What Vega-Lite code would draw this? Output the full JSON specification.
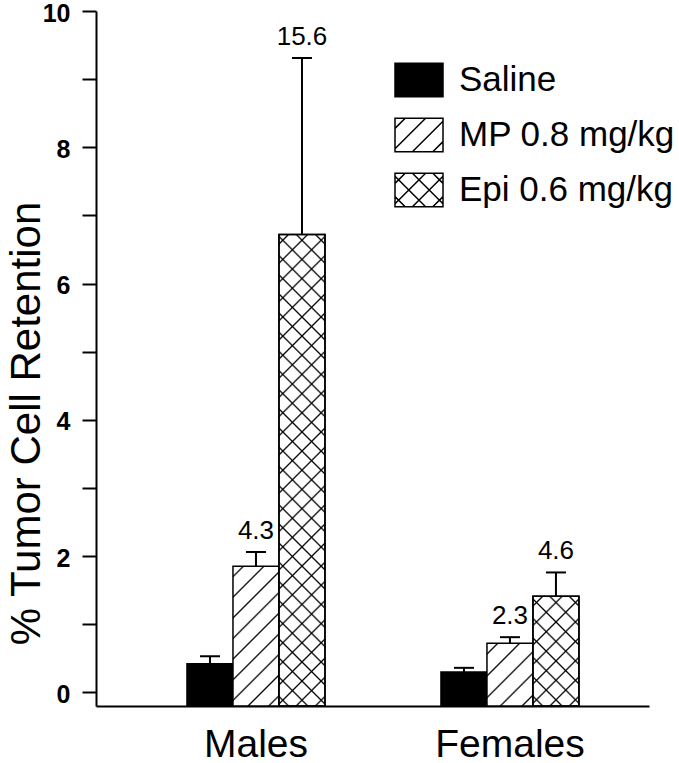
{
"$schema":"https://vega.github.io/schema/vega-lite/v6.json",
"width":553,"height":695,
"autosize":{"type":"none"},
"padding":{"left":96,"top":11,"right":30,"bottom":57},
"background":"white",
"config":{"view":{"stroke":null},"font":"Liberation Sans"},
"data":{"values":[
{"sex":"Males","treatment":"Saline","value":0.42,"err":0.53,"label":null},
{"sex":"Males","treatment":"MP 0.8 mg/kg","value":1.85,"err":2.06,"label":"4.3"},
{"sex":"Males","treatment":"Epi 0.6 mg/kg","value":6.72,"err":9.31,"label":"15.6"},
{"sex":"Females","treatment":"Saline","value":0.30,"err":0.36,"label":null},
{"sex":"Females","treatment":"MP 0.8 mg/kg","value":0.72,"err":0.81,"label":"2.3"},
{"sex":"Females","treatment":"Epi 0.6 mg/kg","value":1.41,"err":1.76,"label":"4.6"}
]},
"encoding":{
"x":{"field":"sex","type":"nominal","scale":{"domain":["Males","Females"],"paddingInner":0.4567,"paddingOuter":0.317,"align":0.565},
"axis":{"title":null,"ticks":false,"grid":false,"domainColor":"black","domainWidth":2,"labelFont":"Liberation Sans","labelFontSize":39,"labelColor":"black","labelPadding":19,"labelAngle":0}},
"xOffset":{"field":"treatment","type":"nominal","scale":{"domain":["Saline","MP 0.8 mg/kg","Epi 0.6 mg/kg"],"paddingInner":0,"paddingOuter":0}},
"y":{"field":"value","type":"quantitative","title":"% Tumor Cell Retention","scale":{"domain":[-0.2,10],"nice":false,"zero":false},
"axis":{"title":"% Tumor Cell Retention","values":[0,1,2,3,4,5,6,7,8,9,10],"labelExpr":"datum.value % 2 === 0 ? datum.label : ''","grid":false,"domainColor":"black","domainWidth":2,"tickColor":"black","tickWidth":2,"tickSize":14,"labelPadding":12,"labelOffset":2,"labelFont":"Liberation Sans","labelFontWeight":"bold","labelFontSize":25,"labelColor":"black","labelOverlap":false,"titleFont":"Liberation Sans","titleFontWeight":"normal","titleFontSize":42,"titleColor":"black","titleX":-57,"titleY":412,"titleAngle":-90,"titleBaseline":"alphabetic","titleAlign":"center"}}
},
"layer":[
{"mark":{"type":"bar","stroke":"black","strokeWidth":1.5},
"encoding":{"y2":{"datum":-0.2},
"fill":{"condition":[
{"test":"datum.sex==='Males' && datum.treatment==='MP 0.8 mg/kg'","value":{"gradient":"linear","x1":0,"y1":0,"x2":0.39494,"y2":1.19925,"stops":[
{"offset":0.0459,"color":"#fff"},{"offset":0.0556,"color":"#000"},{"offset":0.0653,"color":"#fff"},
{"offset":0.1570,"color":"#fff"},{"offset":0.1667,"color":"#000"},{"offset":0.1764,"color":"#fff"},
{"offset":0.2681,"color":"#fff"},{"offset":0.2778,"color":"#000"},{"offset":0.2875,"color":"#fff"},
{"offset":0.3792,"color":"#fff"},{"offset":0.3889,"color":"#000"},{"offset":0.3986,"color":"#fff"},
{"offset":0.4903,"color":"#fff"},{"offset":0.5000,"color":"#000"},{"offset":0.5097,"color":"#fff"},
{"offset":0.6014,"color":"#fff"},{"offset":0.6111,"color":"#000"},{"offset":0.6208,"color":"#fff"},
{"offset":0.7125,"color":"#fff"},{"offset":0.7222,"color":"#000"},{"offset":0.7319,"color":"#fff"},
{"offset":0.8236,"color":"#fff"},{"offset":0.8333,"color":"#000"},{"offset":0.8430,"color":"#fff"},
{"offset":0.9347,"color":"#fff"},{"offset":0.9444,"color":"#000"},{"offset":0.9541,"color":"#fff"}]}},
{"test":"datum.sex==='Females' && datum.treatment==='MP 0.8 mg/kg'","value":{"gradient":"linear","x1":0,"y1":0,"x2":0.82695,"y2":1.12698,"stops":[
{"offset":0.0834,"color":"#fff"},{"offset":0.1,"color":"#000"},{"offset":0.1166,"color":"#fff"},
{"offset":0.2834,"color":"#fff"},{"offset":0.3,"color":"#000"},{"offset":0.3166,"color":"#fff"},
{"offset":0.4834,"color":"#fff"},{"offset":0.5,"color":"#000"},{"offset":0.5166,"color":"#fff"},
{"offset":0.6834,"color":"#fff"},{"offset":0.7,"color":"#000"},{"offset":0.7166,"color":"#fff"},
{"offset":0.8834,"color":"#fff"},{"offset":0.9,"color":"#000"},{"offset":0.9166,"color":"#fff"}]}},
{"test":"datum.sex==='Males' && datum.treatment==='Epi 0.6 mg/kg'","value":{"gradient":"linear","x1":0,"y1":0,"x2":0.10607,"y2":1.08721,"stops":[
{"offset":0.0150,"color":"#fff"},{"offset":0.0185,"color":"#000"},{"offset":0.0220,"color":"#fff"},
{"offset":0.0521,"color":"#fff"},{"offset":0.0556,"color":"#000"},{"offset":0.0591,"color":"#fff"},
{"offset":0.0891,"color":"#fff"},{"offset":0.0926,"color":"#000"},{"offset":0.0961,"color":"#fff"},
{"offset":0.1261,"color":"#fff"},{"offset":0.1296,"color":"#000"},{"offset":0.1331,"color":"#fff"},
{"offset":0.1632,"color":"#fff"},{"offset":0.1667,"color":"#000"},{"offset":0.1702,"color":"#fff"},
{"offset":0.2002,"color":"#fff"},{"offset":0.2037,"color":"#000"},{"offset":0.2072,"color":"#fff"},
{"offset":0.2372,"color":"#fff"},{"offset":0.2407,"color":"#000"},{"offset":0.2442,"color":"#fff"},
{"offset":0.2743,"color":"#fff"},{"offset":0.2778,"color":"#000"},{"offset":0.2813,"color":"#fff"},
{"offset":0.3113,"color":"#fff"},{"offset":0.3148,"color":"#000"},{"offset":0.3183,"color":"#fff"},
{"offset":0.3484,"color":"#fff"},{"offset":0.3519,"color":"#000"},{"offset":0.3554,"color":"#fff"},
{"offset":0.3854,"color":"#fff"},{"offset":0.3889,"color":"#000"},{"offset":0.3924,"color":"#fff"},
{"offset":0.4224,"color":"#fff"},{"offset":0.4259,"color":"#000"},{"offset":0.4294,"color":"#fff"},
{"offset":0.4595,"color":"#fff"},{"offset":0.4630,"color":"#000"},{"offset":0.4665,"color":"#fff"},
{"offset":0.4965,"color":"#fff"},{"offset":0.5000,"color":"#000"},{"offset":0.5035,"color":"#fff"},
{"offset":0.5335,"color":"#fff"},{"offset":0.5370,"color":"#000"},{"offset":0.5405,"color":"#fff"},
{"offset":0.5706,"color":"#fff"},{"offset":0.5741,"color":"#000"},{"offset":0.5776,"color":"#fff"},
{"offset":0.6076,"color":"#fff"},{"offset":0.6111,"color":"#000"},{"offset":0.6146,"color":"#fff"},
{"offset":0.6446,"color":"#fff"},{"offset":0.6481,"color":"#000"},{"offset":0.6516,"color":"#fff"},
{"offset":0.6817,"color":"#fff"},{"offset":0.6852,"color":"#000"},{"offset":0.6887,"color":"#fff"},
{"offset":0.7187,"color":"#fff"},{"offset":0.7222,"color":"#000"},{"offset":0.7257,"color":"#fff"},
{"offset":0.7558,"color":"#fff"},{"offset":0.7593,"color":"#000"},{"offset":0.7628,"color":"#fff"},
{"offset":0.7928,"color":"#fff"},{"offset":0.7963,"color":"#000"},{"offset":0.7998,"color":"#fff"},
{"offset":0.8298,"color":"#fff"},{"offset":0.8333,"color":"#000"},{"offset":0.8368,"color":"#fff"},
{"offset":0.8669,"color":"#fff"},{"offset":0.8704,"color":"#000"},{"offset":0.8739,"color":"#fff"},
{"offset":0.9039,"color":"#fff"},{"offset":0.9074,"color":"#000"},{"offset":0.9109,"color":"#fff"},
{"offset":0.9409,"color":"#fff"},{"offset":0.9444,"color":"#000"},{"offset":0.9479,"color":"#fff"},
{"offset":0.9780,"color":"#fff"},{"offset":0.9815,"color":"#000"},{"offset":0.9850,"color":"#fff"}]}},
{"test":"datum.sex==='Females' && datum.treatment==='Epi 0.6 mg/kg'","value":{"gradient":"linear","x1":0,"y1":0,"x2":0.50617,"y2":1.20713,"stops":[
{"offset":0.0509,"color":"#fff"},{"offset":0.0625,"color":"#000"},{"offset":0.0741,"color":"#fff"},
{"offset":0.1759,"color":"#fff"},{"offset":0.1875,"color":"#000"},{"offset":0.1991,"color":"#fff"},
{"offset":0.3009,"color":"#fff"},{"offset":0.3125,"color":"#000"},{"offset":0.3241,"color":"#fff"},
{"offset":0.4259,"color":"#fff"},{"offset":0.4375,"color":"#000"},{"offset":0.4491,"color":"#fff"},
{"offset":0.5509,"color":"#fff"},{"offset":0.5625,"color":"#000"},{"offset":0.5741,"color":"#fff"},
{"offset":0.6759,"color":"#fff"},{"offset":0.6875,"color":"#000"},{"offset":0.6991,"color":"#fff"},
{"offset":0.8009,"color":"#fff"},{"offset":0.8125,"color":"#000"},{"offset":0.8241,"color":"#fff"},
{"offset":0.9259,"color":"#fff"},{"offset":0.9375,"color":"#000"},{"offset":0.9491,"color":"#fff"}]}}
],"value":"black"}}},
{"transform":[{"filter":"datum.treatment==='Epi 0.6 mg/kg'"}],
"mark":{"type":"bar","stroke":"black","strokeWidth":1.5},
"encoding":{"y2":{"datum":-0.2},
"fill":{"condition":[
{"test":"datum.sex==='Males'","value":{"gradient":"linear","x1":0,"y1":1,"x2":0.10607,"y2":-0.08721,"stops":[
{"offset":0.0150,"color":"rgba(0,0,0,0)"},{"offset":0.0185,"color":"#000"},{"offset":0.0220,"color":"rgba(0,0,0,0)"},
{"offset":0.0521,"color":"rgba(0,0,0,0)"},{"offset":0.0556,"color":"#000"},{"offset":0.0591,"color":"rgba(0,0,0,0)"},
{"offset":0.0891,"color":"rgba(0,0,0,0)"},{"offset":0.0926,"color":"#000"},{"offset":0.0961,"color":"rgba(0,0,0,0)"},
{"offset":0.1261,"color":"rgba(0,0,0,0)"},{"offset":0.1296,"color":"#000"},{"offset":0.1331,"color":"rgba(0,0,0,0)"},
{"offset":0.1632,"color":"rgba(0,0,0,0)"},{"offset":0.1667,"color":"#000"},{"offset":0.1702,"color":"rgba(0,0,0,0)"},
{"offset":0.2002,"color":"rgba(0,0,0,0)"},{"offset":0.2037,"color":"#000"},{"offset":0.2072,"color":"rgba(0,0,0,0)"},
{"offset":0.2372,"color":"rgba(0,0,0,0)"},{"offset":0.2407,"color":"#000"},{"offset":0.2442,"color":"rgba(0,0,0,0)"},
{"offset":0.2743,"color":"rgba(0,0,0,0)"},{"offset":0.2778,"color":"#000"},{"offset":0.2813,"color":"rgba(0,0,0,0)"},
{"offset":0.3113,"color":"rgba(0,0,0,0)"},{"offset":0.3148,"color":"#000"},{"offset":0.3183,"color":"rgba(0,0,0,0)"},
{"offset":0.3484,"color":"rgba(0,0,0,0)"},{"offset":0.3519,"color":"#000"},{"offset":0.3554,"color":"rgba(0,0,0,0)"},
{"offset":0.3854,"color":"rgba(0,0,0,0)"},{"offset":0.3889,"color":"#000"},{"offset":0.3924,"color":"rgba(0,0,0,0)"},
{"offset":0.4224,"color":"rgba(0,0,0,0)"},{"offset":0.4259,"color":"#000"},{"offset":0.4294,"color":"rgba(0,0,0,0)"},
{"offset":0.4595,"color":"rgba(0,0,0,0)"},{"offset":0.4630,"color":"#000"},{"offset":0.4665,"color":"rgba(0,0,0,0)"},
{"offset":0.4965,"color":"rgba(0,0,0,0)"},{"offset":0.5000,"color":"#000"},{"offset":0.5035,"color":"rgba(0,0,0,0)"},
{"offset":0.5335,"color":"rgba(0,0,0,0)"},{"offset":0.5370,"color":"#000"},{"offset":0.5405,"color":"rgba(0,0,0,0)"},
{"offset":0.5706,"color":"rgba(0,0,0,0)"},{"offset":0.5741,"color":"#000"},{"offset":0.5776,"color":"rgba(0,0,0,0)"},
{"offset":0.6076,"color":"rgba(0,0,0,0)"},{"offset":0.6111,"color":"#000"},{"offset":0.6146,"color":"rgba(0,0,0,0)"},
{"offset":0.6446,"color":"rgba(0,0,0,0)"},{"offset":0.6481,"color":"#000"},{"offset":0.6516,"color":"rgba(0,0,0,0)"},
{"offset":0.6817,"color":"rgba(0,0,0,0)"},{"offset":0.6852,"color":"#000"},{"offset":0.6887,"color":"rgba(0,0,0,0)"},
{"offset":0.7187,"color":"rgba(0,0,0,0)"},{"offset":0.7222,"color":"#000"},{"offset":0.7257,"color":"rgba(0,0,0,0)"},
{"offset":0.7558,"color":"rgba(0,0,0,0)"},{"offset":0.7593,"color":"#000"},{"offset":0.7628,"color":"rgba(0,0,0,0)"},
{"offset":0.7928,"color":"rgba(0,0,0,0)"},{"offset":0.7963,"color":"#000"},{"offset":0.7998,"color":"rgba(0,0,0,0)"},
{"offset":0.8298,"color":"rgba(0,0,0,0)"},{"offset":0.8333,"color":"#000"},{"offset":0.8368,"color":"rgba(0,0,0,0)"},
{"offset":0.8669,"color":"rgba(0,0,0,0)"},{"offset":0.8704,"color":"#000"},{"offset":0.8739,"color":"rgba(0,0,0,0)"},
{"offset":0.9039,"color":"rgba(0,0,0,0)"},{"offset":0.9074,"color":"#000"},{"offset":0.9109,"color":"rgba(0,0,0,0)"},
{"offset":0.9409,"color":"rgba(0,0,0,0)"},{"offset":0.9444,"color":"#000"},{"offset":0.9479,"color":"rgba(0,0,0,0)"},
{"offset":0.9780,"color":"rgba(0,0,0,0)"},{"offset":0.9815,"color":"#000"},{"offset":0.9850,"color":"rgba(0,0,0,0)"}]}}
],"value":{"gradient":"linear","x1":0,"y1":1,"x2":0.50617,"y2":-0.20713,"stops":[
{"offset":0.0509,"color":"rgba(0,0,0,0)"},{"offset":0.0625,"color":"#000"},{"offset":0.0741,"color":"rgba(0,0,0,0)"},
{"offset":0.1759,"color":"rgba(0,0,0,0)"},{"offset":0.1875,"color":"#000"},{"offset":0.1991,"color":"rgba(0,0,0,0)"},
{"offset":0.3009,"color":"rgba(0,0,0,0)"},{"offset":0.3125,"color":"#000"},{"offset":0.3241,"color":"rgba(0,0,0,0)"},
{"offset":0.4259,"color":"rgba(0,0,0,0)"},{"offset":0.4375,"color":"#000"},{"offset":0.4491,"color":"rgba(0,0,0,0)"},
{"offset":0.5509,"color":"rgba(0,0,0,0)"},{"offset":0.5625,"color":"#000"},{"offset":0.5741,"color":"rgba(0,0,0,0)"},
{"offset":0.6759,"color":"rgba(0,0,0,0)"},{"offset":0.6875,"color":"#000"},{"offset":0.6991,"color":"rgba(0,0,0,0)"},
{"offset":0.8009,"color":"rgba(0,0,0,0)"},{"offset":0.8125,"color":"#000"},{"offset":0.8241,"color":"rgba(0,0,0,0)"},
{"offset":0.9259,"color":"rgba(0,0,0,0)"},{"offset":0.9375,"color":"#000"},{"offset":0.9491,"color":"rgba(0,0,0,0)"}]}}}},
{"mark":{"type":"rule","color":"black","strokeWidth":2},
"encoding":{"y2":{"field":"err"}}},
{"mark":{"type":"tick","color":"black","size":20,"thickness":2,"opacity":1},
"encoding":{"y":{"field":"err","type":"quantitative","title":"% Tumor Cell Retention"}}},
{"transform":[{"filter":"isValid(datum.label)"}],
"mark":{"type":"text","font":"Liberation Sans","fontSize":26,"color":"black","baseline":"alphabetic","align":"center","dy":-13},
"encoding":{"y":{"field":"err","type":"quantitative","title":"% Tumor Cell Retention"},"text":{"field":"label"}}},
{"mark":{"type":"point","filled":true,"opacity":0,"stroke":"black","strokeWidth":1.5},
"encoding":{
"fill":{"field":"treatment","type":"nominal","scale":{"domain":["Saline","MP 0.8 mg/kg","Epi 0.6 mg/kg"],"range":["black","white","white"]},
"legend":{"title":null,"orient":"none","legendX":298,"legendY":44,"padding":0,"symbolSize":2304,"symbolStrokeWidth":1.5,"symbolStrokeColor":"black","symbolOpacity":1,"labelFont":"Liberation Sans","labelFontSize":35,"labelColor":"black","labelOffset":15,"labelLimit":0,"rowPadding":10}},
"stroke":{"field":"treatment","type":"nominal","scale":{"domain":["Saline","MP 0.8 mg/kg","Epi 0.6 mg/kg"],"range":["black","black","black"]},
"legend":{"title":null,"orient":"none","legendX":298,"legendY":44,"padding":0,"symbolSize":2304,"symbolStrokeWidth":1.5,"symbolStrokeColor":"black","symbolOpacity":1,"labelFont":"Liberation Sans","labelFontSize":35,"labelColor":"black","labelOffset":15,"labelLimit":0,"rowPadding":10}},
"shape":{"field":"treatment","type":"nominal","scale":{"domain":["Saline","MP 0.8 mg/kg","Epi 0.6 mg/kg"],"range":[
"M-1,-0.7H1V0.7H-1Z",
"M-1,-0.7H1V0.7H-1Z M-1,-0.275L-0.575,-0.7 M-1,0.575L0.275,-0.7 M-0.275,0.7L1,-0.575 M0.575,0.7L1,0.275",
"M-1,-0.7H1V0.7H-1Z M-1,-0.275L-0.575,-0.7 M-1,0.575L0.275,-0.7 M-0.275,0.7L1,-0.575 M0.575,0.7L1,0.275 M-1,0.275L-0.575,0.7 M-1,-0.575L0.275,0.7 M-0.275,-0.7L1,0.575 M0.575,-0.7L1,-0.275"]},
"legend":{"title":null,"orient":"none","legendX":298,"legendY":44,"padding":0,"symbolSize":2304,"symbolStrokeWidth":1.5,"symbolStrokeColor":"black","symbolOpacity":1,"labelFont":"Liberation Sans","labelFontSize":35,"labelColor":"black","labelOffset":15,"labelLimit":0,"rowPadding":10}}
}}
]
}
